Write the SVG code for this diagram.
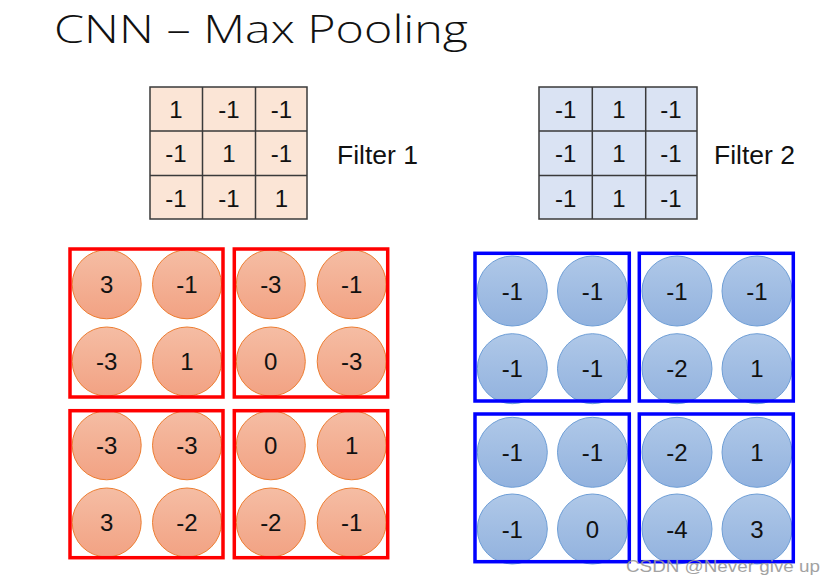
<svg xmlns="http://www.w3.org/2000/svg" width="836" height="584" viewBox="0 0 836 584">
<defs>
<linearGradient id="gr" x1="0" y1="0" x2="0" y2="1"><stop offset="0" stop-color="#F5BDA4"/><stop offset="1" stop-color="#F2A283"/></linearGradient>
<linearGradient id="gb" x1="0" y1="0" x2="0" y2="1"><stop offset="0" stop-color="#AFC8E8"/><stop offset="1" stop-color="#92B2DE"/></linearGradient>
<style>
text{font-family:"Liberation Sans",Arial,sans-serif;fill:#111;text-anchor:middle}
.n{font-size:24px}
.title{font-family:"Open Sans","Liberation Sans",sans-serif;font-weight:300;font-size:38px;text-anchor:start}
.lab{font-size:25px;text-anchor:start}
.cell{stroke:#3a3a3a;stroke-width:1.5}
.f1{fill:#FBE5D6}.f2{fill:#DAE3F3}
.rc{fill:url(#gr);stroke:#ED7D31;stroke-width:1}
.bc{fill:url(#gb);stroke:#6E9ED6;stroke-width:1}
.rb{fill:none;stroke:#FF0000;stroke-width:3.5}
.bb{fill:none;stroke:#0000FF;stroke-width:3.5}
.wm{font-size:17px;fill:#999;text-anchor:start;opacity:0.9}
</style>
</defs>
<rect width="836" height="584" fill="#fff"/>
<text class="title" x="54" y="43" textLength="414" lengthAdjust="spacingAndGlyphs">CNN – Max Pooling</text>

<g id="filter1">
<rect class="cell f1" x="150" y="87" width="157" height="132"/>
<path class="cell" d="M202.5 87V219M255.5 87V219M150 131H307M150 175.5H307" fill="none"/>
<text class="n" x="176" y="117.5">1</text><text class="n" x="229" y="117.5">-1</text><text class="n" x="281.5" y="117.5">-1</text>
<text class="n" x="176" y="162">-1</text><text class="n" x="229" y="162">1</text><text class="n" x="281.5" y="162">-1</text>
<text class="n" x="176" y="206.5">-1</text><text class="n" x="229" y="206.5">-1</text><text class="n" x="281.5" y="206.5">1</text>
</g>
<g id="filter1-label"><text class="lab" x="337" y="164" textLength="81" lengthAdjust="spacingAndGlyphs">Filter 1</text></g>

<g id="filter2">
<rect class="cell f2" x="539" y="87" width="158" height="132"/>
<path class="cell" d="M592.3 87V219M645.7 87V219M539 131H697M539 175.5H697" fill="none"/>
<text class="n" x="565.7" y="117.5">-1</text><text class="n" x="619" y="117.5">1</text><text class="n" x="671" y="117.5">-1</text>
<text class="n" x="565.7" y="162">-1</text><text class="n" x="619" y="162">1</text><text class="n" x="671" y="162">-1</text>
<text class="n" x="565.7" y="206.5">-1</text><text class="n" x="619" y="206.5">1</text><text class="n" x="671" y="206.5">-1</text>
</g>
<g id="filter2-label"><text class="lab" x="714" y="164" textLength="81" lengthAdjust="spacingAndGlyphs">Filter 2</text></g>

<g id="red1">
<circle class="rc" cx="106.7" cy="284.3" r="34.5"/><circle class="rc" cx="187" cy="284.3" r="34.5"/>
<circle class="rc" cx="106.7" cy="361.5" r="34.5"/><circle class="rc" cx="187" cy="361.5" r="34.5"/>
<text class="n" x="106.7" y="293">3</text><text class="n" x="187" y="293">-1</text>
<text class="n" x="106.7" y="370.2">-3</text><text class="n" x="187" y="370.2">1</text>
<rect class="rb" x="70" y="249" width="153" height="148"/>
</g>
<g id="red2">
<circle class="rc" cx="270.8" cy="284.3" r="34.5"/><circle class="rc" cx="351.7" cy="284.3" r="34.5"/>
<circle class="rc" cx="270.8" cy="361.5" r="34.5"/><circle class="rc" cx="351.7" cy="361.5" r="34.5"/>
<text class="n" x="270.8" y="293">-3</text><text class="n" x="351.7" y="293">-1</text>
<text class="n" x="270.8" y="370.2">0</text><text class="n" x="351.7" y="370.2">-3</text>
<rect class="rb" x="234.3" y="249" width="153.4" height="148"/>
</g>
<g id="red3">
<circle class="rc" cx="106.7" cy="445.3" r="34.5"/><circle class="rc" cx="187" cy="445.3" r="34.5"/>
<circle class="rc" cx="106.7" cy="522.5" r="34.5"/><circle class="rc" cx="187" cy="522.5" r="34.5"/>
<text class="n" x="106.7" y="454">-3</text><text class="n" x="187" y="454">-3</text>
<text class="n" x="106.7" y="531.2">3</text><text class="n" x="187" y="531.2">-2</text>
<rect class="rb" x="70" y="410.7" width="153" height="147"/>
</g>
<g id="red4">
<circle class="rc" cx="270.8" cy="445.3" r="34.5"/><circle class="rc" cx="351.7" cy="445.3" r="34.5"/>
<circle class="rc" cx="270.8" cy="522.5" r="34.5"/><circle class="rc" cx="351.7" cy="522.5" r="34.5"/>
<text class="n" x="270.8" y="454">0</text><text class="n" x="351.7" y="454">1</text>
<text class="n" x="270.8" y="531.2">-2</text><text class="n" x="351.7" y="531.2">-1</text>
<rect class="rb" x="234.3" y="410.7" width="153.4" height="147"/>
</g>

<g id="blue1">
<circle class="bc" cx="512.3" cy="291" r="35"/><circle class="bc" cx="592.5" cy="291" r="35"/>
<circle class="bc" cx="512.3" cy="368.7" r="35"/><circle class="bc" cx="592.5" cy="368.7" r="35"/>
<text class="n" x="512.3" y="299.7">-1</text><text class="n" x="592.5" y="299.7">-1</text>
<text class="n" x="512.3" y="377.4">-1</text><text class="n" x="592.5" y="377.4">-1</text>
<rect class="bb" x="475" y="253.3" width="154.3" height="147.7"/>
</g>
<g id="blue2">
<circle class="bc" cx="677" cy="291" r="35"/><circle class="bc" cx="757" cy="291" r="35"/>
<circle class="bc" cx="677" cy="368.7" r="35"/><circle class="bc" cx="757" cy="368.7" r="35"/>
<text class="n" x="677" y="299.7">-1</text><text class="n" x="757" y="299.7">-1</text>
<text class="n" x="677" y="377.4">-2</text><text class="n" x="757" y="377.4">1</text>
<rect class="bb" x="639.3" y="253.3" width="154" height="147.7"/>
</g>
<g id="blue3">
<circle class="bc" cx="512.3" cy="452.3" r="35"/><circle class="bc" cx="592.5" cy="452.3" r="35"/>
<circle class="bc" cx="512.3" cy="529" r="35"/><circle class="bc" cx="592.5" cy="529" r="35"/>
<text class="n" x="512.3" y="461">-1</text><text class="n" x="592.5" y="461">-1</text>
<text class="n" x="512.3" y="537.7">-1</text><text class="n" x="592.5" y="537.7">0</text>
<rect class="bb" x="475" y="414" width="154.3" height="147.7"/>
</g>
<g id="blue4">
<circle class="bc" cx="677" cy="452.3" r="35"/><circle class="bc" cx="757" cy="452.3" r="35"/>
<circle class="bc" cx="677" cy="529" r="35"/><circle class="bc" cx="757" cy="529" r="35"/>
<text class="n" x="677" y="461">-2</text><text class="n" x="757" y="461">1</text>
<text class="n" x="677" y="537.7">-4</text><text class="n" x="757" y="537.7">3</text>
<rect class="bb" x="639.3" y="414" width="154" height="147.7"/>
</g>
<g id="connectors"/>
<text class="wm" x="626" y="572" textLength="194" lengthAdjust="spacingAndGlyphs">CSDN @Never  give  up</text>
</svg>
